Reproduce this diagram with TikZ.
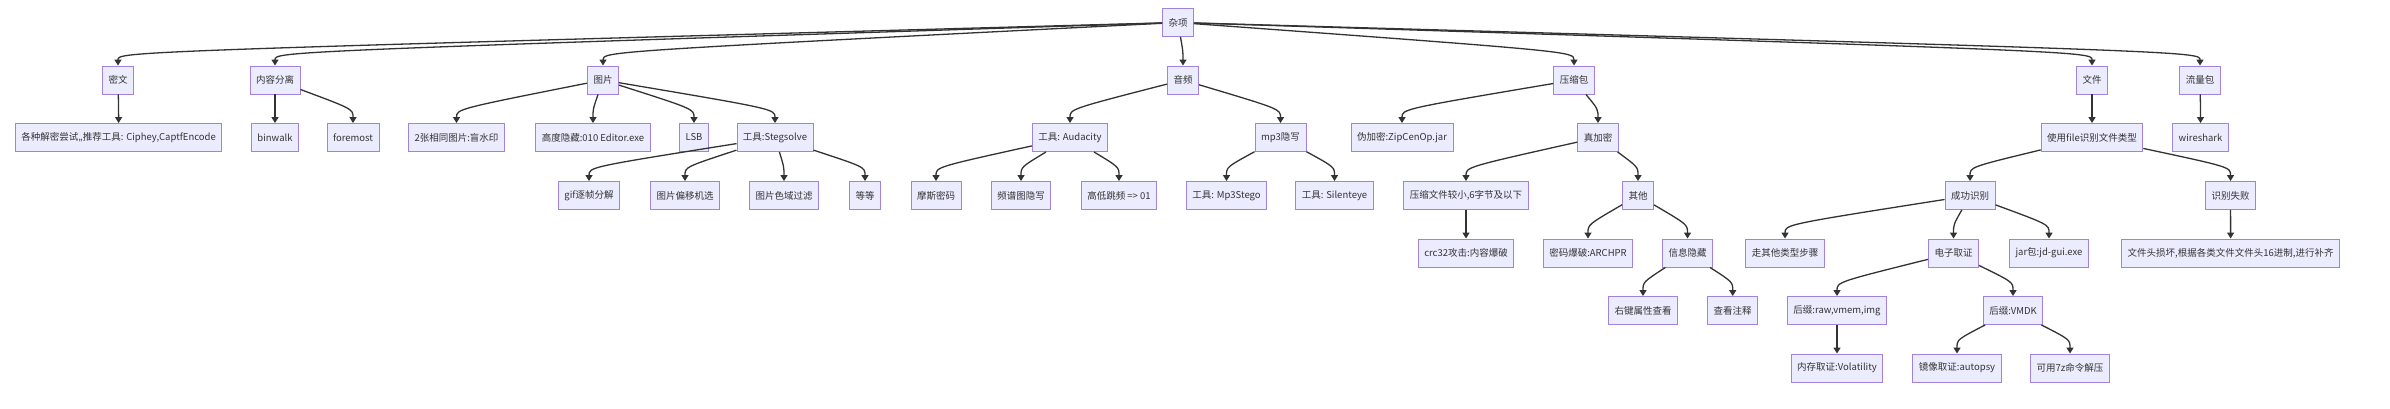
\documentclass[tikz,border=0pt]{standalone}
\usepackage{fontspec}
\setmainfont{Noto Sans CJK SC}
\usetikzlibrary{arrows.meta,calc}
\definecolor{mmfill}{RGB}{236,236,255}
\definecolor{mmstroke}{RGB}{160,130,225}
\definecolor{mmline}{RGB}{51,51,51}
\tikzset{
    mmbox/.style={
        rectangle,
        draw=mmstroke,
        fill=mmfill,
        line width=0.9pt,
        minimum height=28pt,
        inner xsep=6pt,
        inner ysep=2pt,
        text=mmline,
        font=\fontsize{9.5}{11}\selectfont
    },
    arr/.style={-{Triangle[length=6pt,width=7pt]},line width=1.3pt,mmline},
    drop/.style={to path={.. controls ($(\tikztotarget.north)+(0,-14)$) .. (\tikztotarget.north)}}
}
\begin{document}
\begin{tikzpicture}[x=1pt,y=-1pt]
\useasboundingbox (0,0) rectangle (2390,409);
% root
\node[mmbox] (zx) at (1178,22.5) {杂项};
% level 1
\node[mmbox] (miwen)   at (118,80)  {密文};
\node[mmbox] (nrfl)    at (275,80)  {内容分离};
\node[mmbox] (tupian)  at (603,80)  {图片};
\node[mmbox] (yinpin)  at (1183,80) {音频};
\node[mmbox] (ysb)     at (1574,80) {压缩包};
\node[mmbox] (wenjian) at (2092,80) {文件};
\node[mmbox] (llb)     at (2200,80) {流量包};
% level 2
\node[mmbox] (jiemi)     at (118.6,137.5) {各种解密尝试,,推荐工具: Ciphey,CaptfEncode};
\node[mmbox] (binwalk)   at (275,137.5)   {binwalk};
\node[mmbox] (foremost)  at (353,137.5)   {foremost};
\node[mmbox] (mangsy)    at (456.5,137.5) {2张相同图片:盲水印};
\node[mmbox] (gdyc)      at (593,137.5)   {高度隐藏:010 Editor.exe};
\node[mmbox] (lsb)       at (694,137.5)   {LSB};
\node[mmbox] (stegsolve) at (775,137.5)   {工具:Stegsolve};
\node[mmbox] (audacity)  at (1070,137.5)  {工具: Audacity};
\node[mmbox] (mpthree)   at (1280.5,137.5) {mp3隐写};
\node[mmbox] (weijiami)  at (1402,137.5)  {伪加密:ZipCenOp.jar};
\node[mmbox] (zhenjiami) at (1598,137.5)  {真加密};
\node[mmbox] (fileid)    at (2092,137.5)  {使用file识别文件类型};
\node[mmbox] (wireshark) at (2200.5,137.5) {wireshark};
% level 3
\node[mmbox] (gif)       at (589,195.5)    {gif逐帧分解};
\node[mmbox] (pianyi)    at (685,195.5)    {图片偏移机选};
\node[mmbox] (seyu)      at (784,195.5)    {图片色域过滤};
\node[mmbox] (dengdeng)  at (865,195.5)    {等等};
\node[mmbox] (mosi)      at (936,195.5)    {摩斯密码};
\node[mmbox] (pinpu)     at (1021,195.5)   {频谱图隐写};
\node[mmbox] (tiaopin)   at (1119,195.5)   {高低跳频 => 01};
\node[mmbox] (mpstego)   at (1226.5,195.5) {工具: Mp3Stego};
\node[mmbox] (silenteye) at (1334.5,195.5) {工具: Silenteye};
\node[mmbox] (ysxiao)    at (1466,195.5)   {压缩文件较小,6字节及以下};
\node[mmbox] (qita)      at (1638,195.5)   {其他};
\node[mmbox] (cgsb)      at (1970,195.5)   {成功识别};
\node[mmbox] (sbsb)      at (2230.5,195.5) {识别失败};
% level 4
\node[mmbox] (crc)  at (1466,253)   {crc32攻击:内容爆破};
\node[mmbox] (mmbp) at (1588,253)   {密码爆破:ARCHPR};
\node[mmbox] (xxyc) at (1687.5,253) {信息隐藏};
\node[mmbox] (zqt)  at (1785,253)   {走其他类型步骤};
\node[mmbox] (dzqz) at (1953.5,253) {电子取证};
\node[mmbox] (jar)  at (2049,253)   {jar包:jd-gui.exe};
\node[mmbox] (wjt)  at (2230.6,253) {文件头损坏,根据各类文件文件头16进制,进行补齐};
% level 5
\node[mmbox] (youjian) at (1643,310.5)   {右键属性查看};
\node[mmbox] (zhushi)  at (1732.7,310.5) {查看注释};
\node[mmbox] (raw)     at (1837,310.5)   {后缀:raw,vmem,img};
\node[mmbox] (vmdk)    at (2013,310.5)   {后缀:VMDK};
% level 6
\node[mmbox] (volatility) at (1837,368) {内存取证:Volatility};
\node[mmbox] (autopsy)    at (1957,368) {镜像取证:autopsy};
\node[mmbox] (qiz)        at (2070,368) {可用7z命令解压};
% edges
\draw[arr] (zx) to[drop] (miwen);
\draw[arr] (zx) to[drop] (nrfl);
\draw[arr] (zx) to[drop] (tupian);
\draw[arr] (zx) to[drop] (yinpin);
\draw[arr] (zx) to[drop] (ysb);
\draw[arr] (zx) to[drop] (wenjian);
\draw[arr] (zx) to[drop] (llb);
\draw[arr] (miwen) to[drop] (jiemi);
\draw[arr] (nrfl) to[drop] (binwalk);
\draw[arr] (nrfl) to[drop] (foremost);
\draw[arr] (tupian) to[drop] (mangsy);
\draw[arr] (tupian) to[drop] (gdyc);
\draw[arr] (tupian) to[drop] (lsb);
\draw[arr] (tupian) to[drop] (stegsolve);
\draw[arr] (stegsolve) to[drop] (gif);
\draw[arr] (stegsolve) to[drop] (pianyi);
\draw[arr] (stegsolve) to[drop] (seyu);
\draw[arr] (stegsolve) to[drop] (dengdeng);
\draw[arr] (yinpin) to[drop] (audacity);
\draw[arr] (yinpin) to[drop] (mpthree);
\draw[arr] (audacity) to[drop] (mosi);
\draw[arr] (audacity) to[drop] (pinpu);
\draw[arr] (audacity) to[drop] (tiaopin);
\draw[arr] (mpthree) to[drop] (mpstego);
\draw[arr] (mpthree) to[drop] (silenteye);
\draw[arr] (ysb) to[drop] (weijiami);
\draw[arr] (ysb) to[drop] (zhenjiami);
\draw[arr] (zhenjiami) to[drop] (ysxiao);
\draw[arr] (zhenjiami) to[drop] (qita);
\draw[arr] (ysxiao) to[drop] (crc);
\draw[arr] (qita) to[drop] (mmbp);
\draw[arr] (qita) to[drop] (xxyc);
\draw[arr] (xxyc) to[drop] (youjian);
\draw[arr] (xxyc) to[drop] (zhushi);
\draw[arr] (wenjian) to[drop] (fileid);
\draw[arr] (fileid) to[drop] (cgsb);
\draw[arr] (fileid) to[drop] (sbsb);
\draw[arr] (cgsb) to[drop] (zqt);
\draw[arr] (cgsb) to[drop] (dzqz);
\draw[arr] (cgsb) to[drop] (jar);
\draw[arr] (sbsb) to[drop] (wjt);
\draw[arr] (dzqz) to[drop] (raw);
\draw[arr] (dzqz) to[drop] (vmdk);
\draw[arr] (raw) to[drop] (volatility);
\draw[arr] (vmdk) to[drop] (autopsy);
\draw[arr] (vmdk) to[drop] (qiz);
\draw[arr] (llb) to[drop] (wireshark);
\end{tikzpicture}
\end{document}
